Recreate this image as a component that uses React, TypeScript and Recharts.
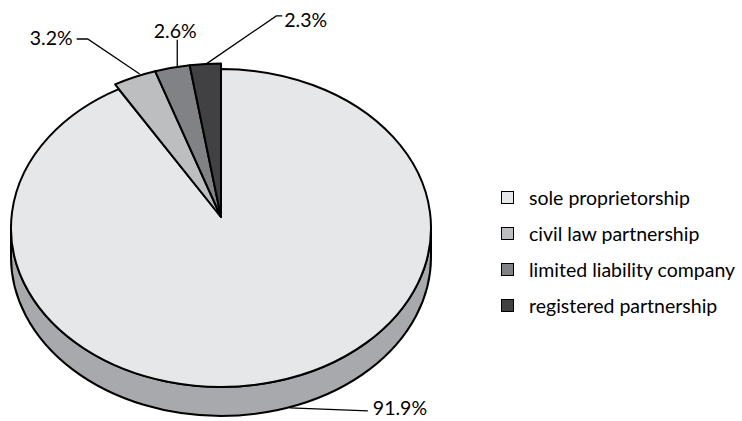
import { PieChart, Pie, Cell, Legend } from 'recharts'

const categories = [
  'sole proprietorship',
  'civil law partnership',
  'limited liability company',
  'registered partnership',
]
const shares = [91.9, 3.2, 2.6, 2.3]
const shareLabels = ['91.9%', '3.2%', '2.6%', '2.3%']

const colors = ['#e6e7e8', '#bcbec0', '#808285', '#414042']
const sideColor = '#a7a9ac'
const FONT = 'Lato, "Open Sans", sans-serif'
const FONT_SIZE = 19.5

// fake 3d look: flatten circle to ellipse, push ellipse centre down a bit (perspective)
const TILT = 0.757
const SHIFT = 11
const DEPTH = 29
const RAD = Math.PI / 180

const data = categories.map((name, i) => ({ name, value: shares[i], label: shareLabels[i] }))

function EllipseSector(props: any) {
  const { cx, cy, outerRadius, startAngle, endAngle, fill } = props
  const name = props.name ?? props.payload?.name
  const idx = categories.indexOf(name)
  const grow = idx === 0 ? 1 : 1.035
  const rx = outerRadius * grow
  const ry = outerRadius * TILT * grow
  const ey = cy + SHIFT
  const pt = (a: number) => [cx + rx * Math.cos(a * RAD), ey - ry * Math.sin(a * RAD)]
  const [x1, y1] = pt(startAngle)
  const [x2, y2] = pt(endAngle)
  const large = Math.abs(endAngle - startAngle) > 180 ? 1 : 0
  const sweep = startAngle > endAngle ? 1 : 0
  const top = `M${cx},${cy} L${x1},${y1} A${rx},${ry} 0 ${large} ${sweep} ${x2},${y2} Z`

  let side = null
  if (idx === 0) {
    const l = cx - rx
    const r = cx + rx
    const d = `M${l},${ey} L${l},${ey + DEPTH} A${rx},${ry} 0 0 0 ${r},${ey + DEPTH} L${r},${ey} A${rx},${ry} 0 0 1 ${l},${ey} Z`
    side = <path d={d} fill={sideColor} stroke="#000" strokeWidth={2} strokeLinejoin="round" />
  }
  return (
    <g>
      {side}
      <path d={top} fill={fill} stroke="#000" strokeWidth={2} strokeLinejoin="round" />
    </g>
  )
}

// leader line layout per slice:
// [anchor dx, anchor dy, elbow dx, elbow dy, tail dx, text dx, text dy, text anchor]
const labelLayout: [number, number, number, number, number, number, number, 'start' | 'middle' | 'end'][] = [
  [16, DEPTH - 3, 78, 3, 0, 5, 4, 'start'],
  [5, -3, -52, -35, -11, -4, 6, 'end'],
  [5, -1, 0, -27, 0, -2, -2, 'middle'],
  [1, 0, 70, -48, 6, 2, 11, 'start'],
]

function renderLabel(props: any) {
  const { cx, cy, midAngle, outerRadius, index } = props
  const idx = index ?? categories.indexOf(props.name)
  const [adx, ady, edx, edy, tdx, textDx, textDy, anchor] = labelLayout[idx]
  const grow = idx === 0 ? 1 : 1.035
  const ax = cx + outerRadius * grow * Math.cos(midAngle * RAD) + adx
  const ay = cy + SHIFT - outerRadius * TILT * grow * Math.sin(midAngle * RAD) + ady
  const ex = ax + edx
  const ey = ay + edy
  const tx = ex + tdx
  return (
    <g>
      <polyline points={`${ax},${ay} ${ex},${ey} ${tx},${ey}`} fill="none" stroke="#000" strokeWidth={1.3} />
      <text x={tx + textDx} y={ey + textDy} textAnchor={anchor} fontSize={FONT_SIZE} fontFamily={FONT} fill="#000">
        {shareLabels[idx]}
      </text>
    </g>
  )
}

function LegendBox() {
  return (
    <div style={{ fontFamily: FONT, fontSize: FONT_SIZE, color: '#000' }}>
      {categories.map((c, i) => (
        <div key={c} style={{ display: 'flex', alignItems: 'center', height: 36 }}>
          <span
            style={{
              display: 'inline-block',
              width: 11,
              height: 11,
              background: colors[i],
              border: '1px solid #000',
              marginRight: 15,
            }}
          />
          <span>{c}</span>
        </div>
      ))}
    </div>
  )
}

export default function App() {
  return (
    <div style={{ width: 742, height: 421, background: '#fff' }}>
      <style>{'body{margin:0}'}</style>
      <PieChart width={742} height={421} margin={{ top: 0, right: 0, bottom: 0, left: 0 }}>
        <Pie
          data={data}
          dataKey="value"
          nameKey="name"
          cx={221}
          cy={217}
          outerRadius={210}
          startAngle={90}
          endAngle={-270}
          stroke="#000"
          shape={EllipseSector}
          inactiveShape={EllipseSector}
          activeShape={EllipseSector}
          label={renderLabel}
          labelLine={false}
          isAnimationActive={false}
        >
          {data.map((d, i) => (
            <Cell key={d.name} fill={colors[i]} />
          ))}
        </Pie>
        <Legend
          content={<LegendBox />}
          layout="vertical"
          wrapperStyle={{ position: 'absolute', left: 501, top: 179, width: 241 }}
        />
      </PieChart>
    </div>
  )
}
